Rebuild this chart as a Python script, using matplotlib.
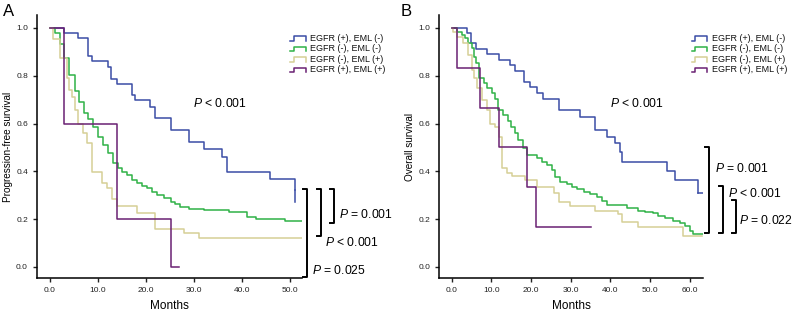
import numpy as np
import matplotlib
matplotlib.use("Agg")
import matplotlib.pyplot as plt

plt.rcParams['font.family'] = ['Liberation Sans', 'DejaVu Sans']
plt.rcParams['mathtext.fontset'] = 'custom'
plt.rcParams['mathtext.it'] = 'Liberation Sans:italic'
plt.rcParams['mathtext.rm'] = 'Liberation Sans'

labels = ["EGFR (+), EML (-)", "EGFR (-), EML (-)", "EGFR (-), EML (+)", "EGFR (+), EML (+)"]
colors = ["#3b4da6", "#2fb246", "#d6cf96", "#6a2173"]

# Panel A: progression-free survival (step times in months, survival after step)
pfs_blue_t = [0, 3.0, 5.9, 8.0, 8.7, 12.0, 12.7, 14.0, 17.1, 17.7, 20.9, 21.9, 25.1, 28.9, 32.0, 35.8, 36.9, 45.9, 50.9]
pfs_blue_s = [1.0, 0.980, 0.957, 0.884, 0.862, 0.838, 0.787, 0.766, 0.720, 0.699, 0.668, 0.622, 0.573, 0.524, 0.494, 0.461, 0.399, 0.368, 0.322]
pfs_blue_end = 0.271
pfs_green_t = [0, 1.0, 2.0, 3.0, 4.0, 5.2, 6.0, 7.0, 8.0, 9.0, 10.0, 11.0, 12.0, 13.2, 14.1, 15.0, 16.0, 17.1, 18.1, 19.1,
               20.2, 21.2, 22.3, 23.7, 25.1, 26.1, 27.1, 28.9, 32.0, 37.2, 41.1, 42.8, 48.9, 52.5]
pfs_green_s = [1.0, 0.980, 0.933, 0.873, 0.803, 0.738, 0.692, 0.643, 0.618, 0.587, 0.543, 0.511, 0.476, 0.434, 0.413, 0.399,
               0.385, 0.364, 0.350, 0.339, 0.329, 0.315, 0.301, 0.287, 0.273, 0.264, 0.250, 0.241, 0.237, 0.229, 0.211, 0.201, 0.194, 0.194]
pfs_tan_t = [0, 0.7, 2.1, 3.5, 4.0, 4.5, 5.2, 5.9, 6.8, 7.8, 8.7, 10.8, 11.8, 12.9, 13.9, 18.1, 21.9, 27.8, 31.0, 52.5]
pfs_tan_s = [1.0, 0.952, 0.873, 0.790, 0.740, 0.710, 0.655, 0.600, 0.560, 0.520, 0.399, 0.350, 0.329, 0.285, 0.255, 0.224,
             0.159, 0.144, 0.120, 0.120]
pfs_purple_t = [0, 3.0, 13.9, 25.1, 26.9]
pfs_purple_s = [1.0, 0.6, 0.2, 0.0, 0.0]

# Panel B: overall survival
os_blue_t = [0, 3.8, 4.8, 6.1, 9.0, 11.9, 14.7, 15.9, 18.2, 19.7, 21.4, 23.1, 26.9, 32.3, 36.1, 39.0, 41.1, 42.4, 42.8,
             54.2, 56.2, 62.1]
os_blue_s = [1.0, 0.978, 0.936, 0.912, 0.890, 0.866, 0.845, 0.820, 0.775, 0.752, 0.727, 0.703, 0.657, 0.626, 0.573, 0.545,
             0.517, 0.482, 0.441, 0.400, 0.364, 0.311]
os_blue_end = 63.2
os_green_t = [0, 1.4, 2.5, 3.4, 4.2, 5.0, 5.6, 6.1, 6.9, 8.1, 9.0, 10.1, 10.9, 11.7, 13.0, 14.1, 14.9, 15.9, 16.8, 18.0,
              18.9, 21.4, 22.7, 23.9, 25.2, 26.0, 27.3, 29.0, 30.2, 31.5, 33.2, 34.8, 36.5, 37.8, 39.0, 44.1, 47.0, 48.7,
              50.8, 52.0, 53.7, 55.8, 57.5, 58.8, 60.0, 60.9, 63.2]
os_green_s = [1.0, 0.985, 0.970, 0.957, 0.936, 0.915, 0.880, 0.852, 0.789, 0.768, 0.748, 0.727, 0.703, 0.657, 0.636, 0.612,
              0.587, 0.559, 0.531, 0.497, 0.469, 0.455, 0.441, 0.427, 0.406, 0.378, 0.357, 0.346, 0.336, 0.325, 0.315, 0.305,
              0.294, 0.277, 0.259, 0.246, 0.236, 0.229, 0.224, 0.215, 0.204, 0.194, 0.185, 0.172, 0.152, 0.138, 0.138]
os_tan_t = [0, 0.4, 1.3, 2.9, 4.2, 5.0, 5.6, 6.4, 7.6, 8.8, 9.6, 10.9, 12.0, 12.6, 13.9, 15.1, 18.5, 21.4, 25.8, 27.1,
            29.8, 36.1, 42.0, 42.8, 47.0, 58.2, 63.0]
os_tan_s = [1.0, 0.985, 0.960, 0.936, 0.887, 0.824, 0.789, 0.748, 0.699, 0.657, 0.600, 0.585, 0.545, 0.413, 0.395, 0.382,
            0.364, 0.336, 0.311, 0.273, 0.255, 0.234, 0.222, 0.190, 0.166, 0.131, 0.131]
os_purple_t = [0, 1.4, 7.1, 12.0, 18.9, 21.2, 35.0]
os_purple_s = [1.0, 0.833, 0.667, 0.5, 0.333, 0.167, 0.167]

fig = plt.figure(figsize=(7.94, 3.18), dpi=100)
axA = fig.add_axes([0.0466, 0.1258, 0.3334, 0.827])
axB = fig.add_axes([0.553, 0.1258, 0.3328, 0.827])


def style_axis(ax, xmin, xmax, xticks):
    for s in ['top', 'right']:
        ax.spines[s].set_visible(False)
    for s in ['left', 'bottom']:
        ax.spines[s].set_linewidth(1.1)
    ax.set_xlim(xmin, xmax)
    ax.set_ylim(-0.046, 1.054)
    ax.set_xticks(xticks)
    ax.set_xticklabels([f"{v:.1f}" for v in xticks])
    yt = [0.0, 0.2, 0.4, 0.6, 0.8, 1.0]
    ax.set_yticks(yt)
    ax.set_yticklabels([f"{v:.1f}" for v in yt])
    ax.tick_params(labelsize=6, colors='#222222', length=3, width=1)
    ax.set_xlabel("Months", fontsize=8.5, labelpad=4)


def draw_legend(ax):
    for i, (lab, c) in enumerate(zip(labels, colors)):
        y = 0.911 - i * 0.04
        xs = [0.956, 0.969, 0.969, 1.015, 1.015]
        ys = [y - 0.008, y - 0.008, y + 0.008, y + 0.008, y - 0.008]
        ax.plot(xs, ys, color=c, lw=1.1, transform=ax.transAxes, clip_on=False)
        ax.text(1.031, y, lab, fontsize=6.5, va='center', ha='left', transform=ax.transAxes, color='#111111')


def bracket(ax, x, y0, y1, label, lx, ly):
    ax.plot([x - 0.015, x, x, x - 0.015], [y1, y1, y0, y0], color='black', lw=1.4,
            transform=ax.transAxes, clip_on=False)
    ax.text(lx, ly, r"$\it{P}$" + label, fontsize=8.7, va='center', ha='left', transform=ax.transAxes)


# Panel A
axA.step(pfs_blue_t, pfs_blue_s, where='post', color=colors[0], lw=1.1)
axA.plot([pfs_blue_t[-1], pfs_blue_t[-1]], [pfs_blue_s[-1], pfs_blue_end], color=colors[0], lw=1.1)
axA.step(pfs_green_t, pfs_green_s, where='post', color=colors[1], lw=1.1)
axA.step(pfs_tan_t, pfs_tan_s, where='post', color=colors[2], lw=1.1)
axA.step(pfs_purple_t, pfs_purple_s, where='post', color=colors[3], lw=1.1)
style_axis(axA, -2.7, 52.4, [0, 10, 20, 30, 40, 50])
axA.set_ylabel("Progression-free survival", fontsize=7.2, labelpad=2)
draw_legend(axA)
axA.text(0.59, 0.665, r"$\it{P}$" + " < 0.001", fontsize=8.7, ha='left', va='center', transform=axA.transAxes)
bracket(axA, 1.020, 0.004, 0.338, " = 0.025", 1.039, 0.03)
bracket(axA, 1.073, 0.160, 0.338, " < 0.001", 1.088, 0.134)
bracket(axA, 1.122, 0.210, 0.338, " = 0.001", 1.141, 0.24)
fig.text(0.004, 0.963, "A", fontsize=12, ha='left', va='center')

# Panel B
axB.step(os_blue_t, os_blue_s, where='post', color=colors[0], lw=1.1)
axB.plot([os_blue_t[-1], os_blue_end], [os_blue_s[-1], os_blue_s[-1]], color=colors[0], lw=1.1)
axB.step(os_green_t, os_green_s, where='post', color=colors[1], lw=1.1)
axB.step(os_tan_t, os_tan_s, where='post', color=colors[2], lw=1.1)
axB.step(os_purple_t, os_purple_s, where='post', color=colors[3], lw=1.1)
style_axis(axB, -3.2, 63.4, [0, 10, 20, 30, 40, 50, 60])
axB.set_ylabel("Overall survival", fontsize=7.2, labelpad=2)
draw_legend(axB)
axB.text(0.647, 0.665, r"$\it{P}$" + " < 0.001", fontsize=8.7, ha='left', va='center', transform=axB.transAxes)
bracket(axB, 1.022, 0.172, 0.499, " = 0.001", 1.044, 0.417)
bracket(axB, 1.073, 0.172, 0.350, " < 0.001", 1.093, 0.322)
bracket(axB, 1.124, 0.172, 0.297, " = 0.022", 1.136, 0.22)
fig.text(0.505, 0.963, "B", fontsize=12, ha='left', va='center')

fig.savefig("out.png", dpi=100)
